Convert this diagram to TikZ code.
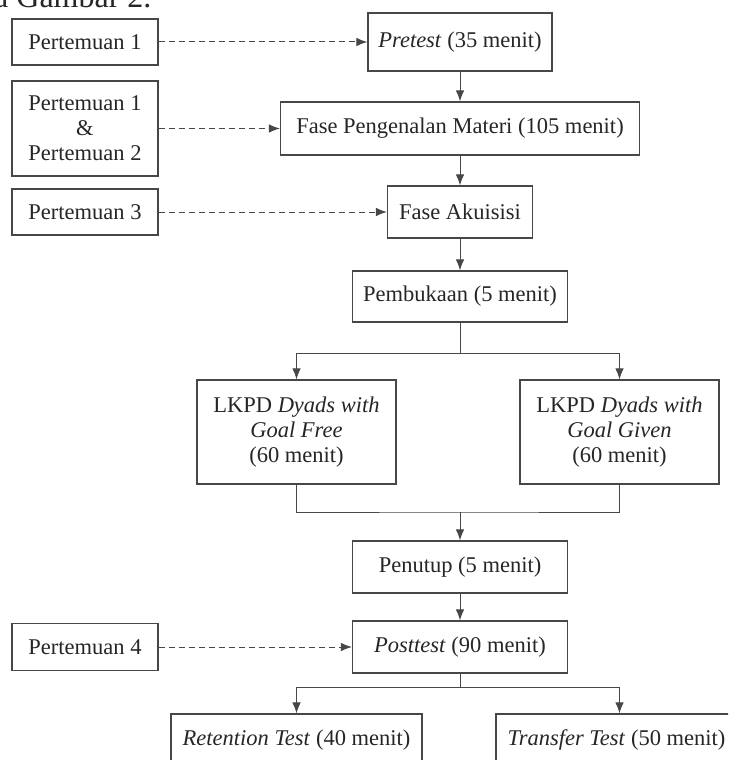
\documentclass[tikz,border=0pt]{standalone}
\usepackage{fontspec}
\setmainfont{Liberation Serif}
\usetikzlibrary{arrows.meta}
\definecolor{lncol}{HTML}{474747}
\definecolor{txcol}{HTML}{262626}
\begin{document}
\begin{tikzpicture}[x=1pt,y=-1pt,
 box/.style={draw=lncol, line width=1.2pt, text=txcol, align=center, inner sep=0pt, font=\fontsize{22.5}{25}\selectfont},
 arr/.style={draw=lncol, line width=1pt, -{Latex[length=11pt,width=8.5pt]}},
 dsh/.style={arr, dash pattern=on 6pt off 4pt},
 wire/.style={draw=lncol, line width=1pt}]
\useasboundingbox (0,0) rectangle (728,760);
\clip (0,0) rectangle (728,760);
\fill[white] (0,0) rectangle (728,760);

\node[anchor=base west, inner sep=0pt, text=txcol, font=\fontsize{32}{36}\selectfont] (cap) at (-6,8) {a Gambar 2.};

% left boxes
\node[box, minimum width=146pt, minimum height=46pt] (p1) at (85,42) {Pertemuan 1};
\node[box, minimum width=146pt, minimum height=95pt] (p12) at (85,128.5) {Pertemuan 1\\ \&\\ Pertemuan 2};
\node[box, minimum width=146pt, minimum height=46pt] (p3) at (85,212) {Pertemuan 3};
\node[box, minimum width=146pt, minimum height=47pt] (p4) at (85,647) {Pertemuan 4};

% main column
\node[box, minimum width=184pt, minimum height=58pt] (pre) at (460,42) {\textit{Pretest} (35 menit)};
\node[box, minimum width=359pt, minimum height=53pt] (fpm) at (460,128.5) {Fase Pengenalan Materi (105 menit)};
\node[box, minimum width=145pt, minimum height=52pt] (fa) at (460,212) {Fase Akuisisi};
\node[box, minimum width=215pt, minimum height=51pt] (pem) at (460,296.5) {Pembukaan (5 menit)};
\node[box, minimum width=199pt, minimum height=104pt] (lf) at (296.5,432) {LKPD \textit{Dyads with}\\ \textit{Goal Free}\\ (60 menit)};
\node[box, minimum width=199pt, minimum height=104pt] (lg) at (619.5,432) {LKPD \textit{Dyads with}\\ \textit{Goal Given}\\ (60 menit)};
\node[box, minimum width=215pt, minimum height=52pt] (pen) at (460,567) {Penutup (5 menit)};
\node[box, minimum width=215pt, minimum height=52pt] (post) at (460,647) {\textit{Posttest} (90 menit)};
\node[box, minimum width=251pt, minimum height=52pt] (ret) at (296.5,740) {\textit{Retention Test} (40 menit)};
\node[box, minimum width=247pt, minimum height=52pt] (tra) at (619.5,740) {\textit{Transfer Test} (50 menit)\hspace*{6pt}};

% dashed links
\draw[dsh] (p1.east) -- (pre.west);
\draw[dsh] (p12.east) -- (fpm.west);
\draw[dsh] (p3.east) -- (fa.west);
\draw[dsh] (p4.east) -- (p4.east -| post.west);

% main flow
\draw[arr] (pre.south) -- (fpm.north);
\draw[arr] (fpm.south) -- (fa.north);
\draw[arr] (fa.south) -- (pem.north);

\coordinate (s1) at (460,353);
\draw[wire] (pem.south) -- (s1);
\draw[arr] (s1) -| (lf.north);
\draw[arr] (s1) -| (lg.north);

\coordinate (m1) at (460,512);
\draw[wire] (lf.south) |- (m1) -| (lg.south);
\draw[arr] (m1) -- (pen.north);
\draw[arr] (pen.south) -- (post.north);

\coordinate (s2) at (460,687);
\draw[wire] (post.south) -- (s2);
\draw[arr] (s2) -| (ret.north);
\draw[arr] (s2) -| (tra.north);
\end{tikzpicture}
\end{document}
